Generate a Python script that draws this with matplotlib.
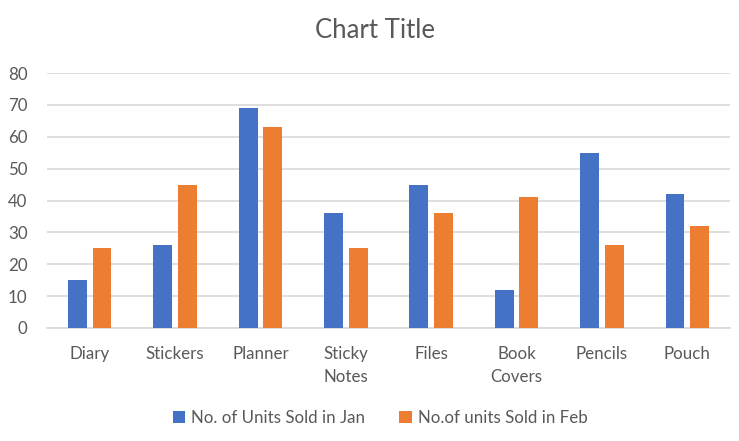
import matplotlib
matplotlib.use("Agg")
import matplotlib.pyplot as plt
import numpy as np

categories = ["Diary", "Stickers", "Planner", "Sticky\nNotes", "Files", "Book\nCovers", "Pencils", "Pouch"]
jan = [15, 26, 69, 36, 45, 12, 55, 42]
feb = [25, 45, 63, 25, 36, 41, 26, 32]
series_names = ["No. of Units Sold in Jan", "No.of units Sold in Feb"]
yticks = [0, 10, 20, 30, 40, 50, 60, 70, 80]

plt.rcParams['font.family'] = ['Lato', 'DejaVu Sans']
gray = "#595959"

fig = plt.figure(figsize=(7.39, 4.41), dpi=100)
ax = fig.add_axes([47/739, 1-328/441, (730-47)/739, (328-73)/441])

x = np.arange(len(categories))
bw = 0.222
gap = 0.066
ax.bar(x - (bw + gap)/2, jan, bw, color="#4472C4", label=series_names[0], zorder=3)
ax.bar(x + (bw + gap)/2, feb, bw, color="#ED7D31", label=series_names[1], zorder=3)

ax.set_xlim(-0.5, len(categories) - 0.5)
ax.set_ylim(0, 80)
ax.set_yticks(yticks)
ax.yaxis.grid(True, color="#d9d9d9", linewidth=1.2, zorder=0)
ax.set_axisbelow(True)
for s in ["top", "right", "left"]:
    ax.spines[s].set_visible(False)
ax.spines["bottom"].set_color("#d9d9d9")
ax.spines["bottom"].set_linewidth(1.2)
ax.tick_params(axis="both", length=0, colors=gray, labelsize=12.2)
ax.tick_params(axis="y", pad=14)
ax.tick_params(axis="x", pad=13)
ax.set_xticks(x)
ax.set_xticklabels(categories, linespacing=1.5)

fig.text(375/739, 1 - 31/441, "Chart Title", ha="center", va="center",
         fontsize=18.5, color=gray)

leg = fig.legend(loc="center", bbox_to_anchor=(380/739, 1 - 418/441), ncol=2, frameon=False,
                 fontsize=12.2, labelcolor=gray, handlelength=0.75, handleheight=0.75,
                 handletextpad=0.35, columnspacing=2.0)

fig.savefig("out.png", dpi=100)
